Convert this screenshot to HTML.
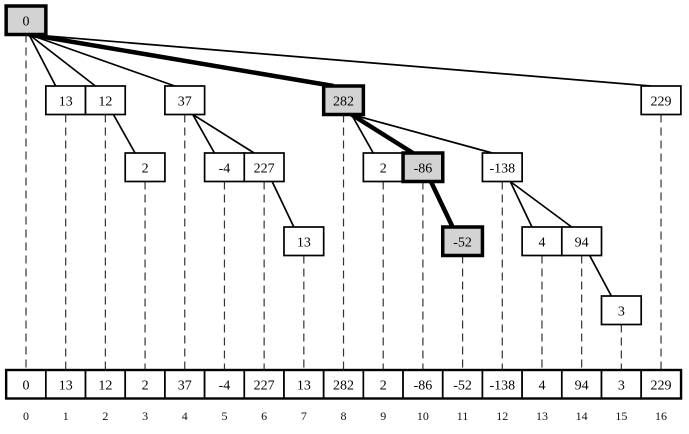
<!DOCTYPE html>
<html><head><meta charset="utf-8"><style>
body{margin:0;background:#fff}
svg text{font-family:"Liberation Serif",serif}
</style></head><body>
<svg id="c" width="689" height="429" xmlns="http://www.w3.org/2000/svg"></svg>
<script>
const values=[0,13,12,2,37,-4,227,13,282,2,-86,-52,-138,4,94,3,229];
const parents=[-1,0,0,2,0,4,4,6,0,8,8,10,8,12,12,14,0];
const levels=[0,1,1,2,1,2,2,3,1,2,2,3,2,3,3,4,1];
const highlighted=[0,8,10,11];
const rowTop=[6,86,153,227,296];
const NS="http://www.w3.org/2000/svg";
const svg=document.getElementById('c');
const colX=i=>26+i*39.69;
const BW=39.7,BH=28.5,AT=370;
function mk(t,a){const e=document.createElementNS(NS,t);for(const k in a)e.setAttribute(k,a[k]);svg.appendChild(e);return e;}
values.forEach((v,i)=>{
  const l=mk('line',{x1:colX(i),x2:colX(i),y1:rowTop[levels[i]]+BH,y2:AT,stroke:'#333','stroke-width':1.2,'stroke-dasharray':'8,5'});
  
  
});
values.forEach((v,i)=>{
  const p=parents[i];if(p<0)return;
  const thick=highlighted.includes(i)&&highlighted.includes(p);
  const sx=colX(p)+(p===0?3:8),sy=rowTop[levels[p]]+BH;
  const ex=colX(i)-10,ey=rowTop[levels[i]];
  const l=mk('line',{x1:sx,y1:sy,x2:ex,y2:ey,stroke:'#000','stroke-width':thick?4.5:1.7});
  
  
});
values.forEach((v,i)=>{
  const h=highlighted.includes(i);
  const g=mk('g',{});
  
  
  const y=rowTop[levels[i]];
  const r=document.createElementNS(NS,'rect');
  const x0=colX(i)-BW/2;
  Object.entries({x:x0,y:y,width:BW,height:BH,fill:h?'#d3d3d3':'#fff',stroke:'#000','stroke-width':h?3.5:1.7}).forEach(([k,val])=>r.setAttribute(k,val));
  g.appendChild(r);
  const t=document.createElementNS(NS,'text');
  Object.entries({x:colX(i),y:y+BH/2+5,'text-anchor':'middle','font-size':14}).forEach(([k,val])=>t.setAttribute(k,val));
  t.textContent=v;g.appendChild(t);svg.appendChild(g);
});
values.forEach((v,i)=>{
  const r=mk('rect',{x:colX(i)-BW/2,y:AT,width:BW,height:BH,fill:'#fff',stroke:'#000','stroke-width':1.7});
  
  
  const t=mk('text',{x:colX(i),y:AT+BH/2+5,'text-anchor':'middle','font-size':14});
  t.textContent=v;
  
  
  const ix=mk('text',{x:colX(i),y:420,'text-anchor':'middle','font-size':12,fill:'#111'});
  ix.textContent=i;
  
  
});
const o=mk('rect',{x:colX(0)-BW/2,y:AT,width:BW*17,height:BH,fill:'none',stroke:'#000','stroke-width':2.4});


</script>
</body></html>
